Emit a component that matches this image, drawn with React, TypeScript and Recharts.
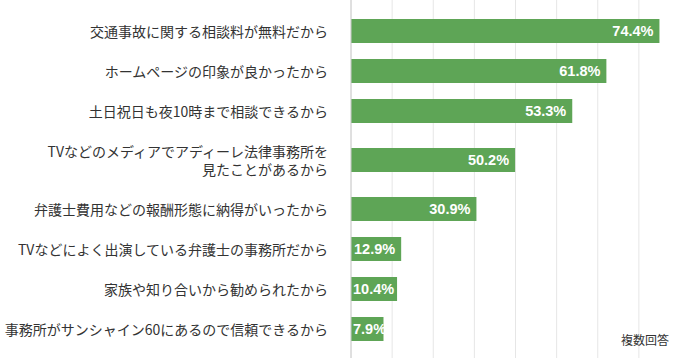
import { BarChart, Bar, XAxis, YAxis, CartesianGrid, LabelList } from "recharts";

// reasons (one row per bar, top to bottom)
const categories = [
  "交通事故に関する相談料が無料だから",
  "ホームページの印象が良かったから",
  "土日祝日も夜10時まで相談できるから",
  "TVなどのメディアでアディーレ法律事務所を\n見たことがあるから",
  "弁護士費用などの報酬形態に納得がいったから",
  "TVなどによく出演している弁護士の事務所だから",
  "家族や知り合いから勧められたから",
  "事務所がサンシャイン60にあるので信頼できるから",
];
// bar lengths as drawn in the picture (%)
const barValues = [75.0, 62.1, 53.8, 39.9, 30.5, 12.2, 11.2, 7.9];
// printed labels
const valueLabels = ["74.4%", "61.8%", "53.3%", "50.2%", "30.9%", "12.9%", "10.4%", "7.9%"];
const xTicks = [0, 10, 20, 30, 40, 50, 60, 70, 80];

const GREEN = "#5ea556";
const TEXT = "#333";
const JP = "'Noto Sans CJK JP', 'Noto Sans', sans-serif";

// row band grows with the number of label lines
const BAND = 40;
const LINE_H = 18;
let acc = 0;
const rows = categories.map((label, i) => {
  const band = BAND + (label.split("\n").length - 1) * LINE_H;
  const pos = acc + band / 2;
  acc += band;
  return { label, value: barValues[i], text: valueLabels[i], pos };
});
const total = acc;

function CategoryTick(props: any) {
  const { x, y, payload } = props;
  const row = rows.find((r) => r.pos === payload.value);
  if (!row) return null;
  const lines = row.label.split("\n");
  const tx = x - 21;
  return (
    <g>
      {lines.map((l, i) => (
        <text
          key={i}
          x={tx}
          y={y + (i - (lines.length - 1) / 2) * 18}
          textAnchor="end"
          dominantBaseline="central"
          fontSize={14}
          fill={TEXT}
          fontFamily={JP}
        >
          {l}
        </text>
      ))}
    </g>
  );
}

function ValueLabel(props: any) {
  const { x, y, width, height, value } = props;
  const s = String(value);
  const est = s.length * 8;
  const end = x + width - 6;
  const fits = end - est >= x + 2;
  return (
    <text
      x={fits ? end : x + 2}
      y={y + height / 2}
      textAnchor={fits ? "end" : "start"}
      dominantBaseline="central"
      fill="#fff"
      fontSize={14.5}
      fontWeight="bold"
      fontFamily="'Liberation Sans', Arial, sans-serif"
    >
      {s}
    </text>
  );
}

export default function App() {
  return (
    <div style={{ position: "absolute", left: 0, top: 0, width: 679, height: 358, overflow: "hidden", background: "#fff" }}>
      <BarChart
        width={680}
        height={358}
        data={rows}
        layout="vertical"
        margin={{ top: 0, right: 0, bottom: 0, left: 0 }}
      >
        <CartesianGrid horizontal={false} stroke="#e6e6e6" />
        <XAxis type="number" domain={[0, 80]} ticks={xTicks} hide />
        <YAxis
          type="number"
          dataKey="pos"
          domain={[0, total]}
          ticks={rows.map((r) => r.pos)}
          interval={0}
          width={351}
          padding={{ top: 11, bottom: 9 }}
          axisLine={{ stroke: "#cccccc" }}
          tickLine={false}
          tickSize={0}
          tick={<CategoryTick />}
        />
        <Bar dataKey="value" barSize={24} fill={GREEN} isAnimationActive={false}>
          <LabelList dataKey="text" content={<ValueLabel />} />
        </Bar>
      </BarChart>
      <div
        style={{
          position: "absolute",
          right: 10,
          top: 333,
          fontSize: 12,
          lineHeight: "14px",
          color: TEXT,
          fontFamily: JP,
        }}
      >
        複数回答
      </div>
    </div>
  );
}
